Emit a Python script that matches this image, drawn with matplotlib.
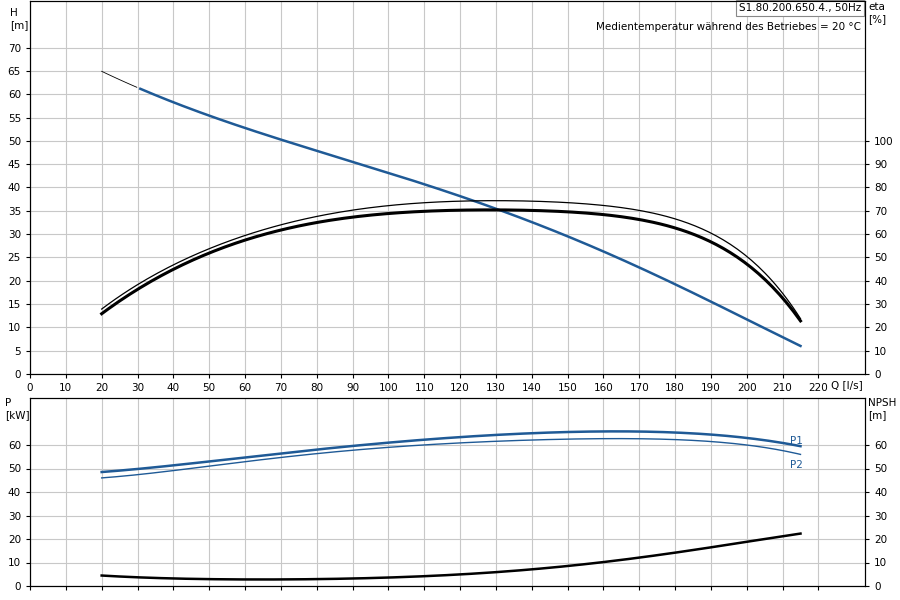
import matplotlib
matplotlib.use("Agg")
import matplotlib.pyplot as plt
import numpy as np

Q_h = [20, 30, 40, 50, 60, 70, 80, 90, 100, 110, 120, 130, 140, 150, 160, 170, 180, 190, 200, 215]
H = [65, 61.5, 58, 55.3, 52.8, 50.5, 48, 45.6, 43.2, 40.7, 38, 35.2, 32.3, 29.5, 26.5, 23.3, 19.5, 15.5, 11, 6.3]
Q_e = [20, 30, 50, 70, 100, 130, 150, 170, 190, 200, 215]
eta_thick = [26, 36, 52, 62, 68.4, 70.5, 70, 66, 56, 48, 22.6]
eta_thin = [28, 38, 54, 64, 72, 74.4, 73.8, 70, 60, 51, 23.6]
Q_p = [20, 50, 100, 150, 160, 200, 215]
P1 = [48.5, 53, 61, 65.5, 65.8, 63, 59.5]
P2 = [46, 51, 59, 62.5, 62.7, 60, 56]
Q_n = [20, 30, 50, 70, 100, 130, 150, 170, 190, 215]
NPSH = [4.5, 3.6, 3, 2.8, 3.5, 6, 8.5, 12, 16.5, 22.3]

def smooth(x, y, n=200, deg=5):
    xs = np.linspace(min(x), max(x), n)
    c = np.polyfit(x, y, min(deg, len(x)-1))
    return xs, np.polyval(c, xs)

blue = "#1f5a96"
fs = 7.5
fig = plt.figure(figsize=(9, 6), dpi=100)
ax = fig.add_axes([30/900, 1-374/600, 835/900, 373/600])
ax.set_xlim(0, 233); ax.set_ylim(0, 80)
ax.set_xticks(range(0, 230, 10)); ax.set_yticks(range(0, 75, 5))
ax.grid(True, color="#c8c8c8", lw=0.8)
ax.tick_params(labelsize=fs, length=3)
x, y = smooth(Q_h, H)
m = x >= 30
ax.plot(x[~m], y[~m], color="black", lw=0.6)
ax.plot(x[m], y[m], color=blue, lw=1.8)
ax2 = ax.twinx(); ax2.set_ylim(0, 160)
ax2.set_yticks(range(0, 110, 10)); ax2.tick_params(labelsize=fs, length=3)
x, y = smooth(Q_e, eta_thick, deg=6); ax2.plot(x, y, color="black", lw=2.2)
x, y = smooth(Q_e, eta_thin, deg=6); ax2.plot(x, y, color="black", lw=0.9)
fig.text(10/900, 1-8/600, "H\n[m]", fontsize=fs, va="top")
fig.text(868/900, 1-2/600, "eta\n[%]", fontsize=fs, va="top")
fig.text(831/900, 1-385/600, "Q [l/s]", fontsize=fs, va="center")
ax.text(0.995, 0.995, "S1.80.200.650.4., 50Hz", transform=ax.transAxes, ha="right", va="top", fontsize=fs,
        bbox=dict(facecolor="white", edgecolor="#888888", lw=0.8, pad=2))
ax.text(0.995, 0.945, "Medientemperatur während des Betriebes = 20 °C", transform=ax.transAxes, ha="right", va="top", fontsize=fs)

bx = fig.add_axes([30/900, 1-586/600, 835/900, 188/600])
bx.set_xlim(0, 233); bx.set_ylim(0, 80)
bx.set_xticks(range(0, 230, 10)); bx.set_xticklabels([])
bx.set_yticks(range(0, 70, 10))
bx.grid(True, color="#c8c8c8", lw=0.8)
bx.tick_params(labelsize=fs, length=3)
x, y = smooth(Q_p, P1, 200); bx.plot(x, y, color=blue, lw=1.8)
x, y = smooth(Q_p, P2, 200); bx.plot(x, y, color=blue, lw=1.0)
x, y = smooth(Q_n, NPSH); bx.plot(x, y, color="black", lw=1.8)
bx.text(212, 60.5, "P1", color=blue, fontsize=fs)
bx.text(212, 50, "P2", color=blue, fontsize=fs)
bx2 = bx.twinx(); bx2.set_ylim(0, 80); bx2.set_yticks(range(0, 70, 10)); bx2.tick_params(labelsize=fs, length=3)
fig.text(5/900, 1-398/600, "P\n[kW]", fontsize=fs, va="top")
fig.text(868/900, 1-398/600, "NPSH\n[m]", fontsize=fs, va="top")
fig.savefig("out.png", dpi=100)
